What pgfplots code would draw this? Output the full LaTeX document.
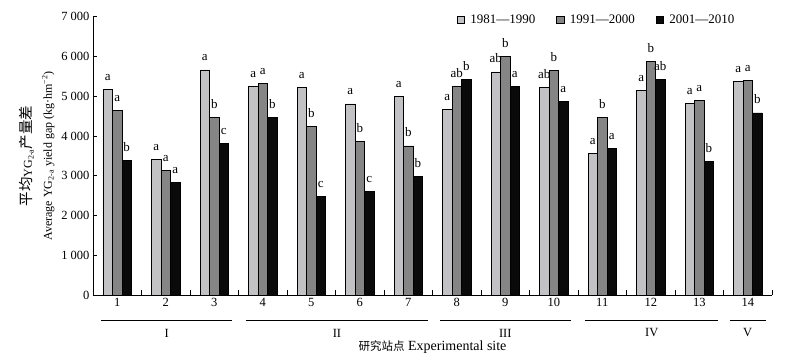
\documentclass[border=0pt]{standalone}
\usepackage{pgfplots}
\pgfplotsset{compat=1.18}
\usepackage{pgfplotstable}
\usepackage{fontspec}
\setmainfont{Liberation Serif}
\newfontfamily\cjk{Noto Sans CJK SC}
\definecolor{cA}{HTML}{C2C2C4}
\definecolor{cB}{HTML}{858585}
\definecolor{cC}{HTML}{0A0A0A}

\pgfplotstableread{
x  y1   l1  y2   l2  y3   l3
1  5170 a   4640 a   3390 b
2  3410 a   3135 a   2835 a
3  5660 a   4475 b   3805 c
4  5255 a   5330 a   4475 b
5  5225 a   4250 b   2475 c
6  4805 a   3855 b   2615 c
7  5000 a   3750 b   2975 b
8  4675 a   5250 ab  5415 b
9  5610 ab  5995 b   5255 a
10 5225 ab  5645 b   4865 a
11 3555 a   4470 b   3695 a
12 5140 a   5885 b   5415 ab
13 4820 a   4895 a   3360 b
14 5365 a   5390 a   4580 b
}\data

\begin{document}
\begin{tikzpicture}[font=\fontsize{12.5pt}{15pt}\selectfont]
\useasboundingbox (0,0) rectangle (807pt,356pt);
\begin{axis}[
  at={(93pt,61pt)}, anchor=south west,
  scale only axis, width=679pt, height=278.3pt,
  xmin=0.5, xmax=14.5, ymin=0, ymax=7000,
  axis x line*=bottom, axis y line*=left,
  axis line style={line width=0.6pt},
  ybar=0pt, bar width=9.5pt,
  xtick={1.5,2.5,...,14.5},
  xticklabels={},
  extra x ticks={1,2,3,4,5,6,7,8,9,10,11,12,13,14},
  extra x tick labels={1,2,3,4,5,6,7,8,9,10,11,12,13,14},
  extra x tick style={major tick length=0pt},
  xtick align=inside, ytick align=inside,
  ytick={0,1000,...,7000},
  major tick length=4.5pt,
  tick style={black, line width=0.6pt},
  /pgf/number format/assume math mode=true,
  /pgf/number format/1000 sep={\ },
  clip=false,
  every node near coord/.append style={anchor=base, inner sep=0pt, yshift=9pt, font=\fontsize{13pt}{15pt}\selectfont, text=black},
  legend style={draw=none, fill=none, at={(0.948,0.988)}, anchor=east, inner sep=0pt,
    legend columns=3, font=\fontsize{13pt}{15pt}\selectfont,
    /tikz/every odd column/.append style={column sep=3.5pt},
    /tikz/every even column/.append style={column sep=19pt}},
  legend image code/.code={\draw[#1,draw=black,line width=0.5pt] (0pt,-3.7pt) rectangle (7.5pt,3.7pt);},
  xlabel={{\cjk\fontsize{11.5pt}{13pt}\selectfont 研究站点} Experimental site},
  xlabel style={at={(axis description cs:0.5,0)}, anchor=center, yshift=-52pt, font=\fontsize{14pt}{15pt}\selectfont},
  ylabel={{\cjk\fontsize{14.5pt}{15pt}\selectfont 平均}YG\textsubscript{2-a}{\cjk\fontsize{14.5pt}{15pt}\selectfont 产量差}\\[5pt]Average YG\textsubscript{2-a} yield gap (kg·hm\textsuperscript{−2})},
  ylabel style={at={(axis description cs:-0.0825,0.5)}, anchor=center, align=center, font=\fontsize{12pt}{15pt}\selectfont},
]
\addplot[fill=cA, draw=black, line width=0.5pt, nodes near coords, point meta=explicit symbolic] table[x=x, y=y1, meta=l1] {\data};
\addplot[fill=cB, draw=black, line width=0.5pt, nodes near coords, point meta=explicit symbolic] table[x=x, y=y2, meta=l2] {\data};
\addplot[fill=cC, draw=black, line width=0.5pt, nodes near coords, point meta=explicit symbolic] table[x=x, y=y3, meta=l3] {\data};
\legend{1981—1990,1991—2000,2001—2010}

\draw[line width=0.8pt] ([yshift=-25pt]axis cs:0.67,0) -- ([yshift=-25pt]axis cs:3.37,0);
\draw[line width=0.8pt] ([yshift=-25pt]axis cs:3.65,0) -- ([yshift=-25pt]axis cs:7.41,0);
\draw[line width=0.8pt] ([yshift=-25pt]axis cs:7.65,0) -- ([yshift=-25pt]axis cs:10.36,0);
\draw[line width=0.8pt] ([yshift=-25pt]axis cs:10.64,0) -- ([yshift=-25pt]axis cs:13.39,0);
\draw[line width=0.8pt] ([yshift=-25pt]axis cs:13.63,0) -- ([yshift=-25pt]axis cs:14.38,0);
\node at ([yshift=-38pt]axis cs:2.02,0) {I};
\node at ([yshift=-38pt]axis cs:5.53,0) {II};
\node at ([yshift=-38pt]axis cs:9.0,0) {III};
\node at ([yshift=-38pt]axis cs:12.02,0) {IV};
\node at ([yshift=-38pt]axis cs:14.0,0) {V};
\end{axis}
\end{tikzpicture}
\end{document}
